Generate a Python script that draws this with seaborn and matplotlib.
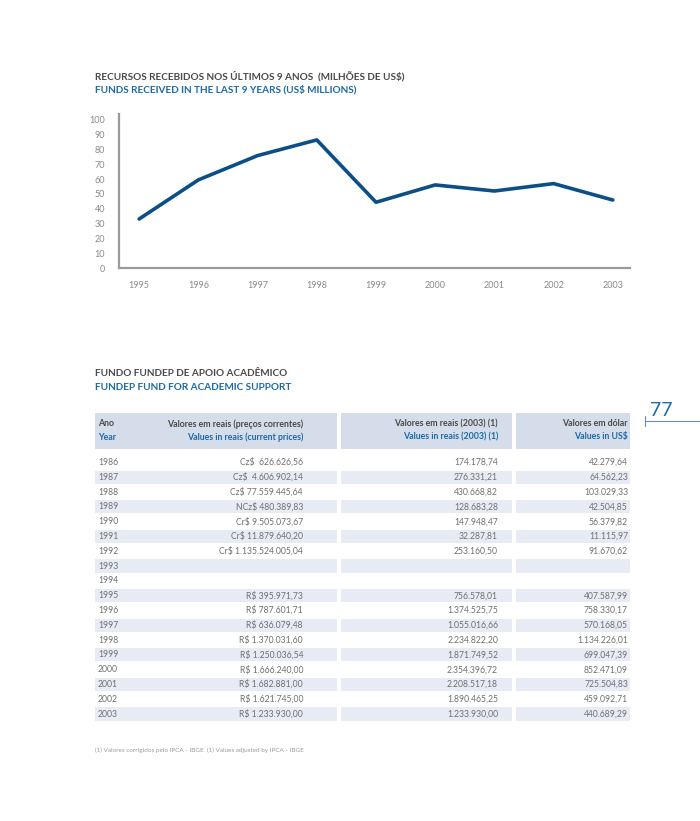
import numpy as np
import pandas as pd
import seaborn as sns
import matplotlib
matplotlib.use('Agg')
import matplotlib.pyplot as plt

# ---- dados do gráfico (milhões de US$) ----
anos_graf = [1995, 1996, 1997, 1998, 1999, 2000, 2001, 2002, 2003]
recursos = [33.1, 59.5, 75.9, 86.5, 44.4, 56.1, 52.0, 57.0, 45.9]
yticks = [0, 10, 20, 30, 40, 50, 60, 70, 80, 90, 100]

# ---- dados da tabela ----
anos_tab = ['1986', '1987', '1988', '1989', '1990', '1991', '1992', '1993', '1994',
            '1995', '1996', '1997', '1998', '1999', '2000', '2001', '2002', '2003']
valores_correntes = ['Cz$  626.626,56', 'Cz$  4.606.902,14', 'Cz$ 77.559.445,64',
                     'NCz$ 480.389,83', 'Cr$ 9.505.073,67', 'Cr$ 11.879.640,20',
                     'Cr$ 1.135.524.005,04', '', '',
                     'R$ 395.971,73', 'R$ 787.601,71', 'R$ 636.079,48',
                     'R$ 1.370.031,60', 'R$ 1.250.036,54', 'R$ 1.666.240,00',
                     'R$ 1.682.881,00', 'R$ 1.621.745,00', 'R$ 1.233.930,00']
valores_2003 = ['174.178,74', '276.331,21', '430.668,82', '128.683,28', '147.948,47',
                '32.287,81', '253.160,50', '', '',
                '756.578,01', '1.374.525,75', '1.055.016,66', '2.234.822,20',
                '1.871.749,52', '2.354.396,72', '2.208.517,18', '1.890.465,25',
                '1.233.930,00']
valores_dolar = ['42.279,64', '64.562,23', '103.029,33', '42.504,85', '56.379,82',
                 '11.115,97', '91.670,62', '', '',
                 '407.587,99', '758.330,17', '570.168,05', '1.134.226,01',
                 '699.047,39', '852.471,09', '725.504,83', '459.092,71',
                 '440.689,29']

CINZA = '#4a4a4a'
AZUL = '#1d6aa6'
LINHA = '#0c4f87'
NUM = '#707070'
BANDA = '#d5dcea'
ALT = '#e7ebf3'

sns.set_theme(style='white')
plt.rcParams['font.family'] = ['Lato', 'DejaVu Sans']

W, H = 700, 821
fig = plt.figure(figsize=(7, 8.21), dpi=100)

# ---------------- gráfico de linha ----------------
ax = fig.add_axes([119 / W, 1 - 268 / H, (630 - 119) / W, (268 - 114) / H])
df = pd.DataFrame({'ano': anos_graf, 'valor': recursos})
sns.lineplot(data=df, x='ano', y='valor', ax=ax, color=LINHA, linewidth=2.6)
ax.set_xlim(1994.66, 2003.29)
ax.set_ylim(0, 104)
ax.set_xticks(anos_graf)
ax.set_xticklabels([str(a) for a in anos_graf])
ax.set_yticks(yticks)
ax.set_xlabel('')
ax.set_ylabel('')
ax.tick_params(axis='both', length=0, labelsize=6.5, colors='#8a8a8a')
ax.tick_params(axis='x', pad=9)
ax.tick_params(axis='y', pad=10)
for s in ['top', 'right']:
    ax.spines[s].set_visible(False)
for s in ['left', 'bottom']:
    ax.spines[s].set_color('#9a9a9a')
    ax.spines[s].set_linewidth(1.6)

# ---------------- camada de texto / tabela (coordenadas em pixels) ----------------
tb = fig.add_axes([0, 0, 1, 1], zorder=-1)
tb.set_xlim(0, W)
tb.set_ylim(H, 0)
tb.axis('off')

tb.text(95, 76, 'RECURSOS RECEBIDOS NOS ÚLTIMOS 9 ANOS  (MILHÕES DE US$)',
        color=CINZA, fontsize=7.2, fontweight='bold', va='center')
tb.text(95, 90, 'FUNDS RECEIVED IN THE LAST 9 YEARS (US$ MILLIONS)',
        color=AZUL, fontsize=7.2, fontweight='bold', va='center')

tb.text(95, 373, 'FUNDO FUNDEP DE APOIO ACADÊMICO',
        color=CINZA, fontsize=7.2, fontweight='bold', va='center')
tb.text(95, 387, 'FUNDEP FUND FOR ACADEMIC SUPPORT',
        color=AZUL, fontsize=7.2, fontweight='bold', va='center')

# colunas: (inicio, fim) em pixels
cols = [(95, 337), (341, 512), (516, 630)]
hdr_top, hdr_bot = 413, 449
for x0, x1 in cols:
    tb.barh((hdr_top + hdr_bot) / 2, x1 - x0, left=x0, height=hdr_bot - hdr_top,
            color=BANDA, linewidth=0)

tb.text(98, 424, 'Ano', color=CINZA, fontsize=6.3, fontweight='bold', va='center')
tb.text(98, 437, 'Year', color=AZUL, fontsize=6.3, fontweight='bold', va='center')
tb.text(303, 424, 'Valores em reais (preços correntes)', color=CINZA,
        fontsize=6.3, fontweight='bold', va='center', ha='right')
tb.text(303, 437, 'Values in reais (current prices)', color=AZUL,
        fontsize=6.3, fontweight='bold', va='center', ha='right')
tb.text(498, 424, 'Valores em reais (2003) (1)', color=CINZA,
        fontsize=6.3, fontweight='bold', va='center', ha='right')
tb.text(498, 437, 'Values in reais (2003) (1)', color=AZUL,
        fontsize=6.3, fontweight='bold', va='center', ha='right')
tb.text(628, 424, 'Valores em dólar', color=CINZA,
        fontsize=6.3, fontweight='bold', va='center', ha='right')
tb.text(628, 437, 'Values in US$', color=AZUL,
        fontsize=6.3, fontweight='bold', va='center', ha='right')

row0, dy = 462.5, 14.8
for i, ano in enumerate(anos_tab):
    y = row0 + i * dy
    if i % 2 == 1:
        for x0, x1 in cols:
            tb.barh(y, x1 - x0, left=x0, height=13.2, color=ALT, linewidth=0)
    tb.text(98, y, ano, color=NUM, fontsize=6.2, va='center')
    tb.text(303, y, valores_correntes[i], color=NUM, fontsize=6.2, va='center', ha='right')
    tb.text(498, y, valores_2003[i], color=NUM, fontsize=6.2, va='center', ha='right')
    tb.text(628, y, valores_dolar[i], color=NUM, fontsize=6.2, va='center', ha='right')

tb.text(95, 750, '(1) Valores corrigidos pelo IPCA - IBGE  (1) Values adjusted by IPCA - IBGE',
        color='#9a9a9a', fontsize=4.6, va='center')

# número da página
tb.text(650, 411, '77', color=AZUL, fontsize=14, va='center', ha='left')
tb.plot([645, 700], [421, 421], color='#6b8fb8', linewidth=0.8)
tb.plot([645, 645], [416, 426], color='#6b8fb8', linewidth=0.8)

fig.savefig('out.png', dpi=100)
